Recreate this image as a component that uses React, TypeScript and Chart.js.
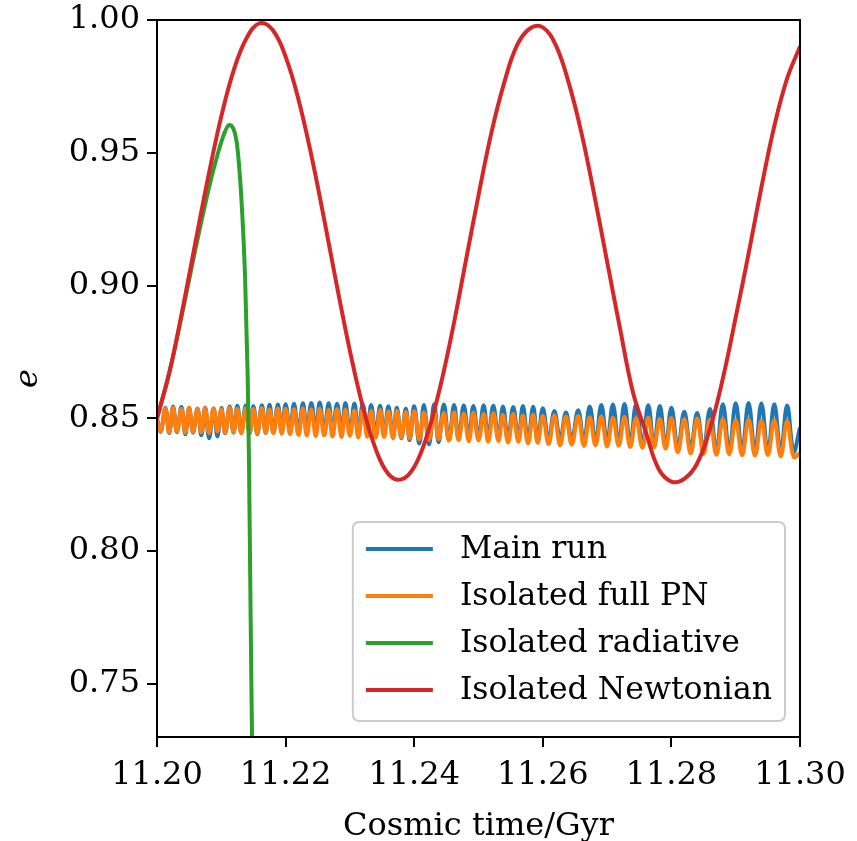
import React, { useEffect, useRef } from 'react';
import { Chart, registerables } from 'chart.js';

Chart.register(...registerables);

const xTickValues = [11.2, 11.22, 11.24, 11.26, 11.28, 11.3];
const yTickValues = [0.75, 0.8, 0.85, 0.9, 0.95, 1.0];
const seriesNames = ['Main run', 'Isolated full PN', 'Isolated radiative', 'Isolated Newtonian'];
const seriesColors = ['#1f77b4', '#ff7f0e', '#2ca02c', '#d62728'];

// shared time samples of the two fast-oscillating runs
const oscTime = [
  11.2000, 11.2006, 11.2013, 11.2019, 11.2025, 11.2031, 11.2038, 11.2044, 11.2050, 11.2056,
  11.2063, 11.2069, 11.2075, 11.2081, 11.2088, 11.2094, 11.2100, 11.2106, 11.2113, 11.2119,
  11.2125, 11.2131, 11.2138, 11.2144, 11.2150, 11.2156, 11.2163, 11.2169, 11.2175, 11.2181,
  11.2188, 11.2194,
  11.2200, 11.2207, 11.2213, 11.2220, 11.2227, 11.2233, 11.2240, 11.2247, 11.2253, 11.2260,
  11.2267, 11.2273, 11.2280, 11.2287, 11.2293, 11.2300, 11.2307, 11.2313, 11.2320, 11.2327,
  11.2333, 11.2340, 11.2347, 11.2353, 11.2360, 11.2367, 11.2373, 11.2380, 11.2387, 11.2393,
  11.2400, 11.2408, 11.2415, 11.2423, 11.2431, 11.2438, 11.2446, 11.2454, 11.2462, 11.2469,
  11.2477, 11.2485, 11.2492, 11.2500, 11.2508, 11.2515, 11.2523, 11.2531, 11.2538, 11.2546,
  11.2554, 11.2562, 11.2569, 11.2577, 11.2585, 11.2592,
  11.2600, 11.2609, 11.2618, 11.2627, 11.2636, 11.2645, 11.2655, 11.2664, 11.2673, 11.2682,
  11.2691, 11.2700, 11.2709, 11.2718, 11.2727, 11.2736, 11.2745, 11.2755, 11.2764, 11.2773,
  11.2782, 11.2791,
  11.2800, 11.2810, 11.2820, 11.2830, 11.2840, 11.2850, 11.2860, 11.2870, 11.2880, 11.2890,
  11.2900, 11.2910, 11.2920, 11.2930, 11.2940, 11.2950, 11.2960, 11.2970, 11.2980, 11.2990,
  11.3000,
];

const mainRunE = [
  0.8500, 0.8450, 0.8540, 0.8445, 0.8545, 0.8448, 0.8543, 0.8440, 0.8538, 0.8446,
  0.8536, 0.8436, 0.8540, 0.8425, 0.8537, 0.8432, 0.8539, 0.8444, 0.8545, 0.8446,
  0.8547, 0.8445, 0.8548, 0.8443, 0.8546, 0.8440, 0.8549, 0.8445, 0.8551, 0.8446,
  0.8552, 0.8447,
  0.8553, 0.8448, 0.8555, 0.8450, 0.8557, 0.8449, 0.8558, 0.8452, 0.8560, 0.8450,
  0.8557, 0.8447, 0.8555, 0.8449, 0.8558, 0.8446, 0.8556, 0.8445, 0.8553, 0.8443,
  0.8550, 0.8440, 0.8547, 0.8436, 0.8545, 0.8430, 0.8540, 0.8425, 0.8536, 0.8418,
  0.8545, 0.8405, 0.8550, 0.8402, 0.8553, 0.8410, 0.8552, 0.8418, 0.8550, 0.8422,
  0.8548, 0.8428, 0.8546, 0.8425, 0.8549, 0.8427, 0.8547, 0.8424, 0.8545, 0.8422,
  0.8543, 0.8420, 0.8546, 0.8418, 0.8544, 0.8416,
  0.8538, 0.8418, 0.8528, 0.8420, 0.8522, 0.8418, 0.8530, 0.8414, 0.8545, 0.8410,
  0.8550, 0.8408, 0.8552, 0.8405, 0.8554, 0.8403, 0.8551, 0.8400, 0.8549, 0.8398,
  0.8546, 0.8395,
  0.8540, 0.8390, 0.8525, 0.8385, 0.8520, 0.8382, 0.8535, 0.8378, 0.8553, 0.8376,
  0.8557, 0.8374, 0.8558, 0.8372, 0.8556, 0.8371, 0.8553, 0.8373, 0.8548, 0.8375,
  0.8465,
];

const fullPnE = [
  0.8495, 0.8452, 0.8538, 0.8448, 0.8540, 0.8450, 0.8536, 0.8446, 0.8541, 0.8449,
  0.8535, 0.8447, 0.8539, 0.8445, 0.8537, 0.8450, 0.8534, 0.8446, 0.8540, 0.8448,
  0.8536, 0.8444, 0.8538, 0.8447, 0.8535, 0.8443, 0.8539, 0.8446, 0.8533, 0.8444,
  0.8537, 0.8442,
  0.8536, 0.8440, 0.8534, 0.8437, 0.8538, 0.8435, 0.8533, 0.8433, 0.8536, 0.8436,
  0.8531, 0.8432, 0.8535, 0.8430, 0.8532, 0.8434, 0.8529, 0.8428, 0.8533, 0.8431,
  0.8528, 0.8427, 0.8531, 0.8430, 0.8526, 0.8425, 0.8529, 0.8428, 0.8524, 0.8424,
  0.8527, 0.8421, 0.8522, 0.8419, 0.8525, 0.8422, 0.8520, 0.8416, 0.8523, 0.8418,
  0.8518, 0.8414, 0.8521, 0.8417, 0.8516, 0.8412, 0.8519, 0.8415, 0.8513, 0.8409,
  0.8516, 0.8412, 0.8511, 0.8406, 0.8514, 0.8408,
  0.8509, 0.8403, 0.8511, 0.8398, 0.8507, 0.8401, 0.8509, 0.8396, 0.8504, 0.8399,
  0.8507, 0.8394, 0.8502, 0.8397, 0.8505, 0.8392, 0.8500, 0.8389, 0.8503, 0.8391,
  0.8498, 0.8386,
  0.8501, 0.8372, 0.8497, 0.8368, 0.8499, 0.8366, 0.8495, 0.8363, 0.8497, 0.8365,
  0.8493, 0.8361, 0.8495, 0.8359, 0.8491, 0.8362, 0.8493, 0.8357, 0.8489, 0.8355,
  0.8370,
];

const radiativeTime = [
  11.2000, 11.2020, 11.2040, 11.2060, 11.2080, 11.2095, 11.2105, 11.2112, 11.2119,
  11.2124, 11.2129, 11.2133, 11.2137, 11.2141, 11.2143, 11.2145, 11.2147, 11.2149,
];
const radiativeE = [
  0.8500, 0.8680, 0.8905, 0.9140, 0.9360, 0.9500, 0.9575, 0.9605, 0.9590,
  0.9540, 0.9410, 0.9250, 0.9030, 0.8660, 0.8350, 0.7900, 0.7450, 0.7100,
];

const newtonianTime = [
  11.200, 11.202, 11.204, 11.206, 11.208, 11.210, 11.212, 11.214, 11.216, 11.218,
  11.220, 11.222, 11.224, 11.226, 11.228, 11.230, 11.232, 11.234, 11.236, 11.238,
  11.240, 11.242, 11.244, 11.246, 11.248, 11.250, 11.252, 11.254, 11.256, 11.258,
  11.260, 11.262, 11.264, 11.266, 11.268, 11.270, 11.272, 11.274, 11.276, 11.278,
  11.280, 11.282, 11.284, 11.286, 11.288, 11.290, 11.292, 11.294, 11.296, 11.298,
  11.300,
];
const newtonianE = [
  0.8500, 0.8681, 0.8914, 0.9166, 0.9413, 0.9637, 0.9816, 0.9935, 0.9988, 0.9962,
  0.9862, 0.9701, 0.9491, 0.9249, 0.8996, 0.8754, 0.8545, 0.8385, 0.8290, 0.8270,
  0.8317, 0.8436, 0.8614, 0.8837, 0.9089, 0.9340, 0.9575, 0.9764, 0.9905, 0.9968,
  0.9972, 0.9906, 0.9766, 0.9576, 0.9342, 0.9090, 0.8840, 0.8600, 0.8450, 0.8310,
  0.8262, 0.8272, 0.8330, 0.8460, 0.8650, 0.8880, 0.9120, 0.9370, 0.9600, 0.9780,
  0.9900,
];

const FONT = 'DejaVu Serif';
const FONT_SIZE = 32;
const LEGEND_FONT_SIZE = 31.5;

const pairs = (xs: number[], ys: number[]) => xs.map((x, i) => ({ x, y: ys[i] }));

const framePlugin = {
  id: 'frameAndLegend',
  afterDatasetsDraw(chart: any) {
    const { ctx, chartArea } = chart;
    const { left, right, top, bottom } = chartArea;
    ctx.save();
    ctx.strokeStyle = '#000';
    ctx.lineWidth = 2;
    ctx.strokeRect(left, top, right - left, bottom - top);
    ctx.restore();

    // legend
    ctx.save();
    ctx.font = `${LEGEND_FONT_SIZE}px "${FONT}"`;
    const maxW = Math.max(...seriesNames.map((n) => ctx.measureText(n).width));
    const padL = 13, lineLen = 67, gap = 27, padR = 13;
    const boxW = padL + lineLen + gap + maxW + padR;
    const boxH = 199;
    const bx = right - 15 - boxW;
    const by = bottom - 16 - boxH;
    const r = 7;
    ctx.beginPath();
    ctx.moveTo(bx + r, by);
    ctx.lineTo(bx + boxW - r, by);
    ctx.quadraticCurveTo(bx + boxW, by, bx + boxW, by + r);
    ctx.lineTo(bx + boxW, by + boxH - r);
    ctx.quadraticCurveTo(bx + boxW, by + boxH, bx + boxW - r, by + boxH);
    ctx.lineTo(bx + r, by + boxH);
    ctx.quadraticCurveTo(bx, by + boxH, bx, by + boxH - r);
    ctx.lineTo(bx, by + r);
    ctx.quadraticCurveTo(bx, by, bx + r, by);
    ctx.closePath();
    ctx.fillStyle = 'rgba(255,255,255,0.8)';
    ctx.fill();
    ctx.strokeStyle = '#cccccc';
    ctx.lineWidth = 2;
    ctx.stroke();

    seriesNames.forEach((name, i) => {
      const cy = by + 27 + 47 * i;
      ctx.beginPath();
      ctx.moveTo(bx + padL, cy);
      ctx.lineTo(bx + padL + lineLen, cy);
      ctx.strokeStyle = seriesColors[i];
      ctx.lineWidth = 4;
      ctx.stroke();
      ctx.fillStyle = '#000';
      ctx.textBaseline = 'middle';
      ctx.textAlign = 'left';
      ctx.fillText(name, bx + padL + lineLen + gap, cy + 1);
    });
    ctx.restore();
  },
};

export default function App() {
  const canvasRef = useRef<HTMLCanvasElement | null>(null);

  useEffect(() => {
    if (!canvasRef.current) return;
    const tickFont = { family: FONT, size: FONT_SIZE };
    const chart = new Chart(canvasRef.current, {
      type: 'line',
      data: {
        datasets: [
          {
            label: seriesNames[0],
            data: pairs(oscTime, mainRunE),
            borderColor: seriesColors[0],
            borderWidth: 4,
            pointRadius: 0,
            tension: 0.4,
            order: 4,
            clip: 0,
          },
          {
            label: seriesNames[1],
            data: pairs(oscTime, fullPnE),
            borderColor: seriesColors[1],
            borderWidth: 4,
            pointRadius: 0,
            tension: 0.4,
            order: 3,
            clip: 0,
          },
          {
            label: seriesNames[2],
            data: pairs(radiativeTime, radiativeE),
            borderColor: seriesColors[2],
            borderWidth: 4,
            pointRadius: 0,
            cubicInterpolationMode: 'monotone',
            order: 2,
            clip: 0,
          },
          {
            label: seriesNames[3],
            data: pairs(newtonianTime, newtonianE),
            borderColor: seriesColors[3],
            borderWidth: 4,
            pointRadius: 0,
            tension: 0.4,
            order: 1,
            clip: 0,
          },
        ] as any,
      },
      options: {
        animation: false,
        responsive: false,
        maintainAspectRatio: false,
        layout: { padding: { left: 0, right: 57, top: 20, bottom: 0 } },
        plugins: { legend: { display: false }, tooltip: { enabled: false } },
        scales: {
          x: {
            type: 'linear',
            min: 11.2,
            max: 11.3,
            afterBuildTicks: (scale: any) => {
              scale.ticks = xTickValues.map((v) => ({ value: v }));
            },
            afterFit: (scale: any) => {
              scale.height = 104;
              scale.paddingLeft = 0;
              scale.paddingRight = 0;
            },
            ticks: {
              font: tickFont,
              color: '#000',
              padding: 9,
              maxRotation: 0,
              callback: (v: any) => Number(v).toFixed(2),
            },
            grid: {
              display: true,
              drawOnChartArea: false,
              drawTicks: true,
              tickLength: 10,
              color: '#000',
              lineWidth: 2,
            },
            border: { display: false },
            title: {
              display: true,
              text: 'Cosmic time/Gyr',
              color: '#000',
              font: { family: FONT, size: FONT_SIZE, lineHeight: 1 },
              padding: { top: 0, bottom: -2 },
            },
          },
          y: {
            type: 'linear',
            min: 0.73,
            max: 1.0,
            afterBuildTicks: (scale: any) => {
              scale.ticks = yTickValues.map((v) => ({ value: v }));
            },
            afterFit: (scale: any) => {
              scale.width = 157;
              scale.paddingTop = 0;
              scale.paddingBottom = 0;
            },
            ticks: {
              font: tickFont,
              color: '#000',
              padding: 7,
              callback: (v: any) => Number(v).toFixed(2),
            },
            grid: {
              display: true,
              drawOnChartArea: false,
              drawTicks: true,
              tickLength: 10,
              color: '#000',
              lineWidth: 2,
            },
            border: { display: false },
            title: {
              display: true,
              text: 'e',
              color: '#000',
              font: { family: FONT, size: FONT_SIZE, style: 'italic' },
              padding: { top: 9, bottom: 0 },
            },
          },
        },
      },
      plugins: [framePlugin],
    } as any);
    return () => chart.destroy();
  }, []);

  return (
    <div style={{ position: 'fixed', left: 0, top: 0, width: 857, height: 841, background: '#fff' }}>
      <canvas ref={canvasRef} width={857} height={841} style={{ display: 'block', width: 857, height: 841 }} />
    </div>
  );
}
